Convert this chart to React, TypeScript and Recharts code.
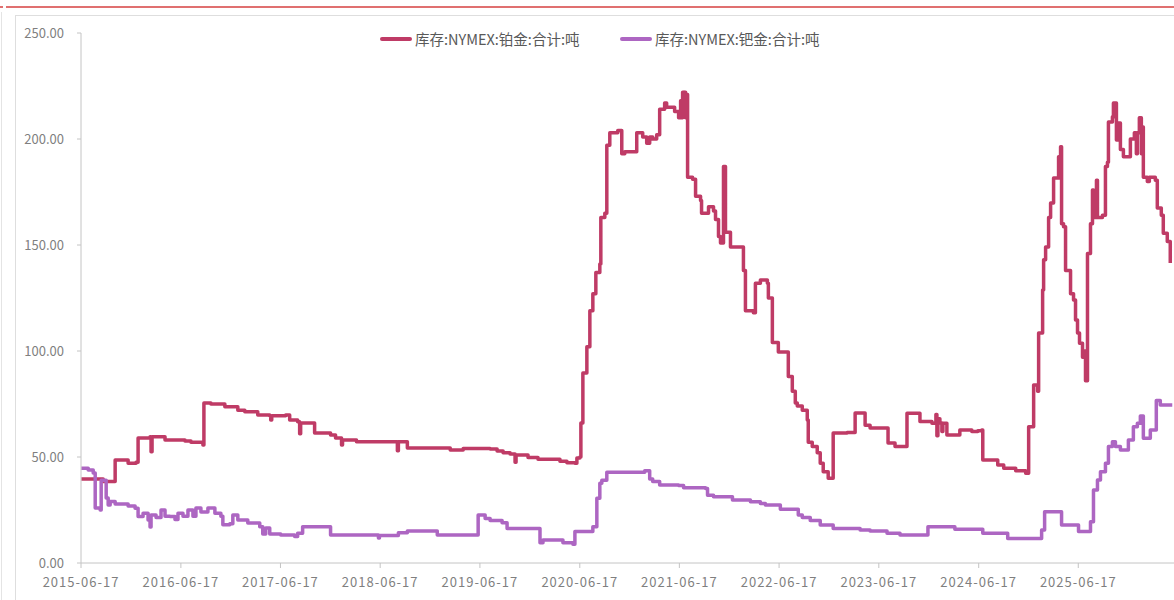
import React from 'react';
import { LineChart, Line, XAxis, YAxis } from 'recharts';

// 库存 NYMEX 铂金 / 钯金，单位：吨。x 为年份小数 (2020.50 ≈ 2020 年 7 月初)
const platinum: [number, number][] = [
  [2015.46, 39.6], [2015.68, 38.4], [2015.80, 48.6], [2015.93, 47.0], [2016.01, 47.5],
  [2016.03, 59.0], [2016.15, 59.6], [2016.16, 52.5], [2016.17, 59.6], [2016.30, 58.0],
  [2016.50, 57.5], [2016.56, 57.0], [2016.68, 55.7], [2016.69, 75.5], [2016.76, 75.0],
  [2016.90, 73.7], [2017.03, 72.0], [2017.10, 71.4], [2017.23, 69.8], [2017.35, 69.5],
  [2017.36, 67.5], [2017.37, 69.5], [2017.51, 69.8], [2017.55, 67.5], [2017.63, 66.6],
  [2017.65, 61.0], [2017.66, 66.0], [2017.80, 61.3], [2017.96, 60.4], [2018.01, 59.0],
  [2018.07, 55.7], [2018.08, 58.0], [2018.22, 57.2], [2018.63, 53.0], [2018.64, 57.2],
  [2018.73, 54.2], [2019.16, 53.3], [2019.29, 54.0], [2019.56, 53.8], [2019.63, 52.8],
  [2019.69, 52.0], [2019.76, 51.4], [2019.81, 47.5], [2019.82, 51.0], [2019.94, 49.8],
  [2020.04, 48.9], [2020.26, 48.0], [2020.33, 47.3], [2020.41, 47.0], [2020.43, 49.5],
  [2020.46, 50.0], [2020.47, 66.0], [2020.49, 89.6], [2020.53, 102.0], [2020.56, 119.0],
  [2020.59, 127.0], [2020.62, 137.0], [2020.66, 141.0], [2020.67, 163.0], [2020.71, 165.0],
  [2020.73, 197.0], [2020.76, 203.0], [2020.84, 204.0], [2020.88, 193.0], [2020.91, 194.0],
  [2021.03, 203.0], [2021.09, 201.0], [2021.13, 198.0], [2021.16, 201.0], [2021.19, 200.0],
  [2021.23, 202.0], [2021.26, 214.0], [2021.31, 217.0], [2021.33, 215.0], [2021.41, 213.0],
  [2021.45, 210.0], [2021.47, 218.0], [2021.48, 210.0], [2021.49, 222.0], [2021.50, 212.0],
  [2021.51, 222.0], [2021.52, 210.0], [2021.53, 221.0], [2021.54, 182.0], [2021.59, 181.0],
  [2021.62, 173.0], [2021.67, 171.0], [2021.68, 165.0], [2021.75, 168.0], [2021.80, 166.0],
  [2021.82, 162.0], [2021.85, 154.0], [2021.87, 151.0], [2021.90, 187.0], [2021.92, 156.0],
  [2021.97, 149.0], [2022.10, 138.0], [2022.12, 119.0], [2022.20, 118.0], [2022.22, 132.0],
  [2022.27, 133.5], [2022.34, 132.0], [2022.35, 125.0], [2022.39, 104.0], [2022.45, 99.5],
  [2022.55, 88.0], [2022.59, 81.0], [2022.62, 75.5], [2022.64, 74.0], [2022.69, 72.0],
  [2022.74, 67.5], [2022.75, 57.0], [2022.79, 55.0], [2022.84, 52.0], [2022.87, 47.0],
  [2022.90, 43.0], [2022.95, 40.0], [2023.00, 61.3], [2023.14, 61.5], [2023.22, 70.7],
  [2023.32, 65.0], [2023.37, 63.7], [2023.55, 56.6], [2023.62, 55.0], [2023.74, 70.6],
  [2023.87, 66.7], [2023.99, 65.9], [2024.03, 70.0], [2024.04, 60.0], [2024.05, 68.0],
  [2024.07, 66.0], [2024.09, 62.0], [2024.10, 65.9], [2024.14, 60.4], [2024.27, 62.7],
  [2024.39, 62.0], [2024.45, 62.4], [2024.49, 62.7], [2024.50, 48.6], [2024.65, 46.2],
  [2024.71, 44.7], [2024.83, 43.5], [2024.93, 42.3], [2024.96, 64.3], [2025.01, 84.0],
  [2025.05, 81.0], [2025.06, 108.5], [2025.10, 128.8], [2025.11, 143.0], [2025.13, 149.0],
  [2025.16, 163.0], [2025.18, 169.8], [2025.21, 181.6], [2025.26, 191.6], [2025.28, 196.4],
  [2025.29, 160.0], [2025.31, 158.6], [2025.33, 138.0], [2025.38, 127.0], [2025.41, 124.0],
  [2025.43, 114.6], [2025.45, 108.5], [2025.47, 103.6], [2025.50, 97.0], [2025.51, 100.0],
  [2025.53, 86.0], [2025.55, 146.0], [2025.58, 160.0], [2025.60, 176.0], [2025.61, 163.0],
  [2025.64, 180.6], [2025.65, 163.0], [2025.70, 164.0], [2025.73, 187.0], [2025.75, 189.0],
  [2025.76, 208.0], [2025.80, 210.5], [2025.81, 217.0], [2025.84, 199.5], [2025.86, 207.5],
  [2025.88, 195.0], [2025.91, 191.6], [2025.98, 200.0], [2026.02, 203.0], [2026.04, 193.0],
  [2026.05, 203.0], [2026.07, 210.0], [2026.09, 193.0], [2026.10, 205.7], [2026.11, 182.0],
  [2026.15, 180.0], [2026.17, 182.0], [2026.23, 180.6], [2026.25, 167.5], [2026.29, 164.0],
  [2026.31, 155.6], [2026.35, 151.6], [2026.38, 141.5],
];

const palladium: [number, number][] = [
  [2015.46, 44.7], [2015.53, 43.9], [2015.58, 42.5], [2015.60, 26.0], [2015.65, 25.0],
  [2015.66, 39.0], [2015.71, 30.7], [2015.73, 27.4], [2015.75, 29.0], [2015.80, 27.8],
  [2015.93, 26.9], [2016.00, 25.8], [2016.03, 21.9], [2016.08, 23.5], [2016.13, 20.3],
  [2016.15, 17.0], [2016.16, 22.6], [2016.21, 21.5], [2016.26, 25.0], [2016.30, 22.0],
  [2016.35, 21.9], [2016.40, 20.5], [2016.43, 23.5], [2016.48, 22.0], [2016.53, 25.0],
  [2016.58, 22.0], [2016.61, 26.0], [2016.66, 24.0], [2016.73, 26.0], [2016.80, 23.5],
  [2016.86, 22.0], [2016.88, 18.0], [2016.95, 18.5], [2016.98, 22.6], [2017.03, 20.3],
  [2017.13, 18.9], [2017.25, 17.1], [2017.28, 13.7], [2017.31, 16.5], [2017.35, 13.7],
  [2017.46, 13.2], [2017.60, 12.5], [2017.63, 14.0], [2017.68, 17.1], [2017.96, 13.2],
  [2018.44, 11.8], [2018.45, 13.0], [2018.64, 14.3], [2018.73, 15.1], [2019.03, 13.2],
  [2019.44, 22.6], [2019.51, 21.0], [2019.56, 20.0], [2019.68, 19.0], [2019.73, 16.3],
  [2020.06, 9.6], [2020.09, 10.8], [2020.29, 9.6], [2020.39, 8.8], [2020.41, 14.8],
  [2020.59, 17.1], [2020.63, 30.5], [2020.66, 37.6], [2020.68, 39.0], [2020.73, 42.8],
  [2021.11, 43.5], [2021.16, 39.6], [2021.19, 38.4], [2021.26, 36.8], [2021.45, 36.5],
  [2021.50, 35.5], [2021.72, 35.2], [2021.74, 32.0], [2021.80, 31.3], [2021.99, 29.7],
  [2022.17, 28.9], [2022.27, 28.1], [2022.32, 27.4], [2022.47, 25.3], [2022.65, 22.6],
  [2022.69, 21.5], [2022.77, 20.0], [2022.87, 17.9], [2023.00, 16.3], [2023.27, 15.6],
  [2023.37, 15.1], [2023.54, 14.0], [2023.67, 13.2], [2023.95, 17.1], [2024.22, 15.9],
  [2024.50, 14.0], [2024.75, 11.6], [2025.09, 15.6], [2025.12, 24.2], [2025.29, 17.9],
  [2025.46, 14.8], [2025.58, 19.5], [2025.61, 34.4], [2025.65, 39.2], [2025.68, 43.0],
  [2025.73, 47.0], [2025.76, 54.9], [2025.80, 57.2], [2025.83, 55.0], [2025.88, 53.3],
  [2025.96, 58.0], [2026.01, 64.3], [2026.05, 65.9], [2026.08, 69.3], [2026.11, 58.8],
  [2026.18, 62.7], [2026.24, 76.6], [2026.28, 74.5], [2026.40, 74.5],
];

const xTickLabels = [
  '2015-06-17', '2016-06-17', '2017-06-17', '2018-06-17', '2019-06-17', '2020-06-17',
  '2021-06-17', '2022-06-17', '2023-06-17', '2024-06-17', '2025-06-17',
];
const xEnd = '2026-06-17';
const yTicks = [0, 50, 100, 150, 200, 250];

const seriesNames = ['库存:NYMEX:铂金:合计:吨', '库存:NYMEX:钯金:合计:吨'];
const seriesColors = ['#bf3b66', '#ad66c2'];

// 日期字符串 -> 年份小数
const toYear = (s: string) => {
  const [y, m, d] = s.split('-').map(Number);
  const start = Date.UTC(y, 0, 1);
  const next = Date.UTC(y + 1, 0, 1);
  return y + (Date.UTC(y, m - 1, d) - start) / (next - start);
};

const xTicks = xTickLabels.map(toYear);
const toRows = (pts: [number, number][]) => pts.map(([year, value]) => ({ year, value }));

const axisColor = '#c4c4c4';
const tickStyle = { fill: '#7f7f7f', fontSize: 13, fontFamily: '"Noto Sans CJK SC", "Liberation Sans", sans-serif' };

const App: React.FC = () => {
  const series = [platinum, palladium];
  const legendLeft = [380, 620];

  return (
    <div
      style={{
        position: 'absolute',
        left: 0,
        top: 0,
        width: 1174,
        height: 600,
        overflow: 'hidden',
        background: '#fff',
      }}
    >
      {/* 页面边框 */}
      <div style={{ position: 'absolute', left: 0, top: 6, width: 3, height: 2, background: '#e07070' }} />
      <div style={{ position: 'absolute', left: 6, top: 6, right: 0, height: 2, background: '#e07070' }} />
      <div style={{ position: 'absolute', left: 1, top: 12, width: 1, bottom: 0, background: '#e4e4e4' }} />
      <div
        style={{
          position: 'absolute',
          left: 15,
          top: 15,
          right: -2,
          bottom: -2,
          border: '1px solid #dedede',
        }}
      />

      <div style={{ position: 'absolute', left: 0, top: 0 }}>
        <LineChart width={1180} height={600} margin={{ top: 33, right: 2, left: 11, bottom: 5 }}>
          <XAxis
            type="number"
            dataKey="year"
            domain={[xTicks[0], toYear(xEnd)]}
            ticks={xTicks}
            tickFormatter={(_v: number, i: number) => xTickLabels[i]}
            interval={0}
            height={32}
            stroke={axisColor}
            tickSize={5}
            tickMargin={10}
            tick={{ ...tickStyle, letterSpacing: 1 }}
            allowDataOverflow
          />
          <YAxis
            type="number"
            domain={[0, 250]}
            ticks={yTicks}
            tickFormatter={(v: number) => v.toFixed(2)}
            width={70}
            stroke={axisColor}
            tickSize={4}
            tickMargin={13}
            tick={tickStyle}
          />
          {series.map((pts, i) => (
            <Line
              key={seriesNames[i]}
              data={toRows(pts)}
              dataKey="value"
              name={seriesNames[i]}
              type="stepAfter"
              stroke={seriesColors[i]}
              strokeWidth={3.5}
              strokeLinejoin="round"
              dot={false}
              activeDot={false}
              isAnimationActive={false}
            />
          ))}
        </LineChart>
      </div>

      {/* 图例 */}
      {seriesNames.map((name, i) => (
        <div
          key={name}
          style={{
            position: 'absolute',
            left: legendLeft[i],
            top: 28,
            display: 'flex',
            alignItems: 'center',
            fontFamily: '"Noto Sans CJK SC", sans-serif',
            fontSize: 14.5,
            color: '#595959',
            whiteSpace: 'nowrap',
          }}
        >
          <span
            style={{
              display: 'inline-block',
              width: 32,
              height: 4,
              borderRadius: 2,
              background: seriesColors[i],
              marginRight: 3,
            }}
          />
          {name}
        </div>
      ))}
    </div>
  );
};

export default App;
